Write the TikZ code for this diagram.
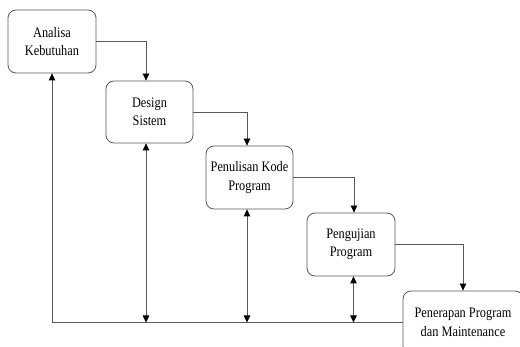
\documentclass[tikz,border=0pt]{standalone}
\usepackage{fontspec}
\setmainfont[FakeStretch=0.85]{Liberation Serif}
\usetikzlibrary{arrows.meta}
\begin{document}
\begin{tikzpicture}[x=1pt,y=-1pt,
  box/.style={draw=black!65, line width=0.8pt, rounded corners=8pt, fill=white,
    inner sep=0pt, align=center, font=\fontsize{14.5}{18.5}\selectfont},
  conn/.style={draw=black!65, line width=0.8pt},
  tip/.style={-{Triangle[length=7pt,width=6.5pt,fill=black,color=black]}},
  dtip/.style={{Triangle[length=7pt,width=6.5pt,fill=black,color=black]}-{Triangle[length=7pt,width=6.5pt,fill=black,color=black]}}]
\clip (0,0) rectangle (520,347);
\useasboundingbox (0,0) rectangle (520,347);
\node[box, minimum width=88pt, minimum height=63pt] (a) at (52,41.5) {Analisa\\Kebutuhan};
\node[box, minimum width=87pt, minimum height=62pt] (b) at (149.5,112) {Design\\Sistem};
\node[box, minimum width=87pt, minimum height=63pt] (c) at (249.5,177.5) {Penulisan Kode\\Program};
\node[box, minimum width=88pt, minimum height=63pt] (d) at (351,244.5) {Pengujian\\Program};
\node[box, minimum width=120pt, minimum height=63pt] (e) at (463,322.5) {Penerapan Program\\dan Maintenance};
% forward flow
\draw[conn,tip] (a.east) -| ([xshift=-3.5pt]b.north);
\draw[conn,tip] (b.east) -| ([xshift=-2.5pt]c.north);
\draw[conn,tip] (c.east) -| ([xshift=3pt]d.north);
\draw[conn,tip] (d.east) -| (e.north);
% feedback line
\draw[conn,tip] (e.west) -| (a.south);
\draw[conn,dtip] ([xshift=-3.5pt]b.south) -- ([xshift=-3.5pt]b.south |- e.west);
\draw[conn,dtip] ([xshift=-2.5pt]c.south) -- ([xshift=-2.5pt]c.south |- e.west);
\draw[conn,dtip] ([xshift=2.5pt]d.south) -- ([xshift=2.5pt]d.south |- e.west);
\end{tikzpicture}
\end{document}
